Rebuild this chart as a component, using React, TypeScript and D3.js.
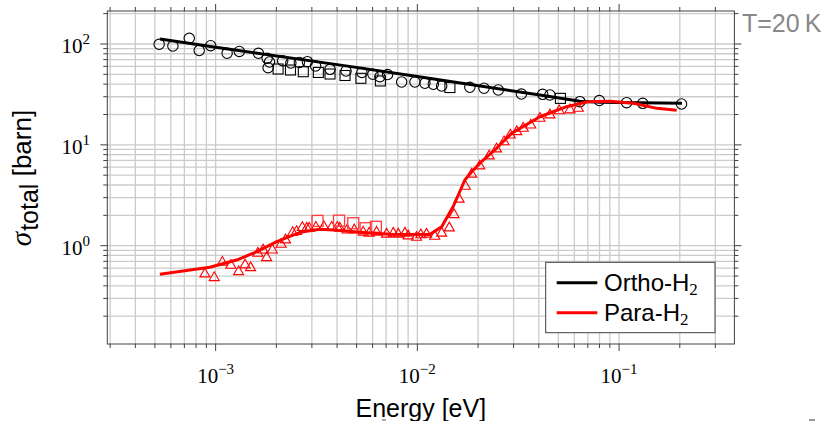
import React from 'react';
import * as d3 from 'd3';

// ---------- data ----------
const orthoLineE = [5.3e-4, 1e-3, 4.6e-3, 1e-2, 4.05e-2, 6.4e-2, 8.05e-2, 0.205];
const orthoLineS = [112, 93, 60, 47.5, 31.2, 27, 26.4, 25.8];

const paraLineE = [5.29e-4, 9.37e-4, 1.27e-3, 1.6e-3, 2.01e-3, 2.62e-3, 3.29e-3, 3.83e-3, 5.61e-3, 7.31e-3, 1.15e-2, 1.32e-2, 1.51e-2, 1.72e-2, 1.86e-2, 2.08e-2, 2.47e-2, 2.93e-2, 4.05e-2, 5.5e-2, 7.01e-2, 9.01e-2, 0.118, 0.154, 0.193];
const paraLineS = [0.52, 0.611, 0.721, 0.872, 1.096, 1.358, 1.454, 1.431, 1.346, 1.297, 1.291, 1.543, 2.476, 4.48, 5.42, 6.81, 9.24, 13.0, 19.0, 23.9, 26.8, 27.1, 25.8, 23.0, 22.0];

const orthoCircE = [5.25e-4, 6.14e-4, 7.4e-4, 8.29e-4, 9.45e-4, 1.14e-3, 1.31e-3, 1.63e-3, 1.8e-3, 1.85e-3, 1.82e-3, 2.15e-3, 2.36e-3, 2.6e-3, 2.85e-3, 3.13e-3, 3.69e-3, 4.43e-3, 5.31e-3, 6.02e-3, 6.52e-3, 7.12e-3, 8.36e-3, 9.73e-3, 1.09e-2, 1.2e-2, 1.32e-2, 1.82e-2, 2.14e-2, 2.52e-2, 3.28e-2, 4.18e-2, 4.54e-2, 6.4e-2, 7.98e-2, 0.109, 0.131, 0.204];
const orthoCircS = [99.3, 95.5, 113.9, 86.2, 96.2, 80.9, 84.3, 80.9, 72.1, 66.3, 58.2, 68.3, 64.8, 65.6, 66.8, 60.5, 56.1, 54.0, 52.2, 50.1, 47.4, 49.8, 42.0, 42.0, 40.8, 39.9, 38.3, 37.2, 36.4, 35.0, 31.9, 31.7, 31.2, 26.8, 27.5, 26.2, 25.8, 25.4];

const orthoSqE = [2.04e-3, 2.35e-3, 2.72e-3, 3.23e-3, 3.69e-3, 4.38e-3, 5.25e-3, 6.56e-3, 1.45e-2, 5.12e-2];
const orthoSqS = [56.5, 55.2, 53.1, 52.2, 50.4, 48.7, 45.7, 43.0, 37.0, 28.9];

const paraTriE = [8.85e-4, 9.84e-4, 1.08e-3, 1.19e-3, 1.3e-3, 1.4e-3, 1.49e-3, 1.62e-3, 1.72e-3, 1.79e-3, 1.91e-3, 2.11e-3, 2.22e-3, 2.41e-3, 2.52e-3, 2.69e-3, 2.83e-3, 2.91e-3, 3.14e-3, 3.44e-3, 3.76e-3, 4.01e-3, 4.13e-3, 4.49e-3, 4.87e-3, 5.39e-3, 5.77e-3, 6.28e-3, 7.04e-3, 7.6e-3, 8.04e-3, 8.68e-3, 9.01e-3, 9.9e-3, 1.04e-2, 1.11e-2, 1.22e-2, 1.32e-2, 1.44e-2, 1.52e-2, 1.61e-2, 1.73e-2, 1.86e-2, 2.04e-2, 2.27e-2, 2.47e-2, 2.69e-2, 2.89e-2, 3.11e-2, 3.35e-2, 3.65e-2, 4.05e-2, 4.54e-2, 5.05e-2, 5.71e-2, 6.28e-2];
const paraTriS = [0.524, 0.482, 0.684, 0.639, 0.552, 0.644, 0.605, 0.841, 0.906, 0.76, 0.906, 1.03, 1.14, 1.35, 1.38, 1.51, 1.49, 1.49, 1.52, 1.54, 1.52, 1.52, 1.49, 1.43, 1.43, 1.36, 1.33, 1.36, 1.3, 1.33, 1.3, 1.33, 1.25, 1.21, 1.28, 1.3, 1.24, 1.33, 1.5, 2.03, 2.89, 3.88, 5.11, 6.17, 7.75, 9.1, 10.7, 12.5, 13.5, 14.6, 15.7, 18.3, 19.8, 21.7, 22.2, 23.0];

const paraSqE = [3.2e-3, 4.09e-3, 4.81e-3, 5.54e-3, 6.23e-3];
const paraSqS = [1.76, 1.77, 1.67, 1.49, 1.54];

const xMajor = [1e-3, 1e-2, 1e-1];
const xMajorExp = ['−3', '−2', '−1'];
const yMajor = [1, 10, 100];
const yMajorExp = ['0', '1', '2'];
const seriesNames = ['Ortho-H', 'Para-H'];
const seriesColors = ['#000000', '#ff0000'];

// ---------- layout ----------
const W = 826, H = 421;
const X0 = 107.3, X1 = 734.4, Y0 = 11, Y1 = 344;
const x = d3.scaleLog().domain([2.904e-4, 0.373]).range([X0, X1]);
const y = d3.scaleLog().domain([0.106, 212.4]).range([Y1, Y0]);

function logTicks(dom: number[]) {
  const [a, b] = dom;
  const out: { v: number; major: boolean }[] = [];
  for (let e = Math.floor(Math.log10(a)); e <= Math.ceil(Math.log10(b)); e++) {
    for (let m = 1; m <= 9; m++) {
      const v = m * Math.pow(10, e);
      if (v >= a * 0.999 && v <= b * 1.001) out.push({ v, major: m === 1 });
    }
  }
  return out;
}

const SANS = '"Liberation Sans", Arial, Helvetica, sans-serif';
const SERIF = '"Liberation Serif", "Times New Roman", serif';

export default function App() {
  const xt = logTicks(x.domain());
  const yt = logTicks(y.domain());
  const line = d3.line<[number, number]>().x(d => x(d[0])).y(d => y(d[1]));
  const orthoLine = orthoLineE.map((e, i) => [e, orthoLineS[i]] as [number, number]);
  const paraLine = paraLineE.map((e, i) => [e, paraLineS[i]] as [number, number]);
  const tri = d3.symbol().type(d3.symbolTriangle).size(44)()!;
  const gridC = '#cbcbcb';
  const axC = '#404040';
  return (
    <svg width={W} height={H} style={{ position: 'absolute', left: 0, top: 0, background: '#fff' }}>
      <rect x={0} y={0} width={W} height={H} fill="#fff" />
      {/* grid */}
      <g>
        {xt.map((t, i) => (
          <line key={'gx' + i} x1={x(t.v)} x2={x(t.v)} y1={Y0} y2={Y1} stroke={gridC} strokeWidth={1.3} />
        ))}
        {yt.map((t, i) => (
          <line key={'gy' + i} y1={y(t.v)} y2={y(t.v)} x1={X0} x2={X1} stroke={gridC} strokeWidth={1.3} />
        ))}
      </g>
      {/* ticks */}
      <g stroke={axC} strokeWidth={1}>
        {xt.map((t, i) => {
          const L = t.major ? 7 : 4;
          const px = x(t.v);
          return (
            <g key={'tx' + i}>
              <line x1={px} x2={px} y1={Y1} y2={Y1 + L} />
              <line x1={px} x2={px} y1={Y0} y2={Y0 - L} />
            </g>
          );
        })}
        {yt.map((t, i) => {
          const L = t.major ? 7 : 4;
          const py = y(t.v);
          return (
            <g key={'ty' + i}>
              <line y1={py} y2={py} x1={X0} x2={X0 - L} />
              <line y1={py} y2={py} x1={X1} x2={X1 + L} />
            </g>
          );
        })}
      </g>
      <rect x={X0} y={Y0} width={X1 - X0} height={Y1 - Y0} fill="none" stroke={axC} strokeWidth={1} />
      {/* tick labels */}
      {xMajor.map((v, i) => (
        <text key={'xl' + i} x={x(v)} y={383} textAnchor="middle" fontFamily={SERIF} fontSize={21} fill="#000">
          10<tspan dy={-9} fontSize={15}>{xMajorExp[i]}</tspan>
        </text>
      ))}
      {yMajor.map((v, i) => (
        <text key={'yl' + i} x={90} y={y(v) + 9.5} textAnchor="end" fontFamily={SERIF} fontSize={21} fill="#000">
          10<tspan dy={-9} fontSize={15}>{yMajorExp[i]}</tspan>
        </text>
      ))}
      {/* axis titles */}
      <text x={(X0 + X1) / 2} y={416.5} textAnchor="middle" fontFamily={SANS} fontSize={25} fill="#000">Energy [eV]</text>
      <text transform={`translate(31,178) rotate(-90)`} textAnchor="middle" fill="#000" fontSize={26}>
        <tspan fontFamily={SERIF} fontStyle="italic" fontSize={29}>σ</tspan>
        <tspan fontFamily={SANS} fontSize={25} dy={7} dx={1}>total</tspan>
        <tspan fontFamily={SANS} dy={-7}> [barn]</tspan>
      </text>
      <text x={742} y={32} fontFamily={SANS} fontSize={25} fill="#888">T=20<tspan dx={5}>K</tspan></text>
      {/* ortho markers */}
      <g fill="none" stroke="#000" strokeWidth={1.1}>
        {orthoCircE.map((e, i) => (
          <circle key={'oc' + i} cx={x(e)} cy={y(orthoCircS[i])} r={5.2} />
        ))}
        {orthoSqE.map((e, i) => (
          <rect key={'os' + i} x={x(e) - 5} y={y(orthoSqS[i]) - 5} width={10} height={10} />
        ))}
      </g>
      <path d={line(orthoLine)!} fill="none" stroke={seriesColors[0]} strokeWidth={3} strokeLinejoin="round" />
      {/* para markers */}
      <g fill="none" stroke="#ff0000" strokeWidth={1.1}>
        {paraTriE.map((e, i) => (
          <path key={'pt' + i} d={tri} transform={`translate(${x(e)},${y(paraTriS[i])})`} />
        ))}
      </g>
      <g fill="none" stroke="#ff3a3a" strokeWidth={1.3}>
        {paraSqE.map((e, i) => (
          <rect key={'ps' + i} x={x(e) - 5.5} y={y(paraSqS[i]) - 5.5} width={11} height={11} />
        ))}
      </g>
      <path d={line(paraLine)!} fill="none" stroke={seriesColors[1]} strokeWidth={3} strokeLinejoin="round" />
      {/* legend */}
      <rect x={545.7} y={262.3} width={169.3} height={70.4} fill="#fff" stroke={axC} strokeWidth={1} />
      {seriesNames.map((n, i) => (
        <g key={'lg' + i}>
          <line x1={556.7} x2={597.3} y1={282.7 + i * 30} y2={282.7 + i * 30} stroke={seriesColors[i]} strokeWidth={3} />
          <text x={604} y={291.3 + i * 30} fontFamily={SANS} fontSize={24} fill="#000">
            {n}<tspan fontFamily={SERIF} fontSize={17} dy={4}>2</tspan>
          </text>
        </g>
      ))}
      {/* small artifacts at the bottom edge */}
      <rect x={809} y={419} width={6} height={2} fill="#999" />
      <rect x={382} y={419} width={4} height={2} fill="#aaa" />
    </svg>
  );
}
